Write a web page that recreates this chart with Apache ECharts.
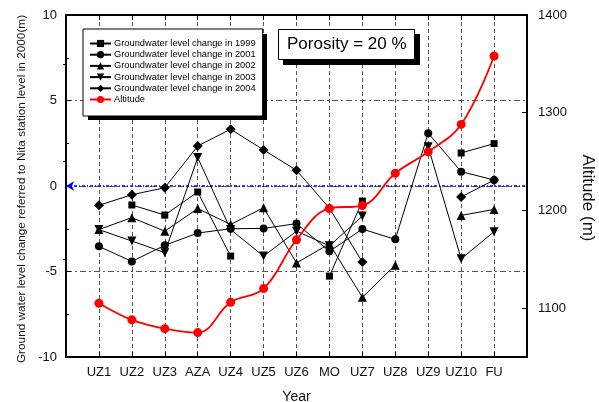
<!DOCTYPE html>
<html>
<head>
<meta charset="utf-8">
<script src="https://cdn.jsdelivr.net/npm/echarts@6/dist/echarts.min.js"></script>
<style>
  html, body { margin: 0; padding: 0; background: #fff; }
  #chart { width: 599px; height: 402px; }
</style>
</head>
<body>
<div id="chart"></div>
<script>
// Station names along the profile
const categories = ['UZ1', 'UZ2', 'UZ3', 'AZA', 'UZ4', 'UZ5', 'UZ6', 'MO', 'UZ7', 'UZ8', 'UZ9', 'UZ10', 'FU'];

// Groundwater level change (m), referred to Nita station level in 2000
const level1999 = [null, -1.11, -1.70, -0.35, -4.10, null, null, -5.27, -0.88, null, null, 1.93, 2.48];
const level2001 = [-3.53, -4.41, -3.47, -2.75, -2.50, -2.48, -2.20, -3.82, -2.52, -3.12, 3.09, 0.84, 0.35];
const level2002 = [-2.55, -1.85, -2.64, -1.32, -2.25, -1.27, -4.50, -3.38, -6.51, -4.63, null, -1.72, -1.37];
const level2003 = [-2.55, -3.22, -3.90, 1.66, -2.55, -4.10, -2.64, -3.50, -1.76, null, 2.29, -4.26, -2.67];
const level2004 = [-1.13, -0.51, -0.10, 2.34, 3.32, 2.11, 0.92, -1.30, -4.45, null, null, -0.64, 0.35];

// Station altitude (m)
const altitude = [1105, 1088, 1079, 1075, 1106, 1120, 1170, 1202, 1205, 1238, 1260, 1288, 1358];

// Right axis ticks
const altitudeLabels = [1100, 1200, 1300, 1400];
const altitudeMinor = [1150, 1250, 1350];

const FONT = '"Liberation Sans", Arial, sans-serif';

const toPoints = arr => arr.map((v, i) => [i + 1, v == null ? '-' : v]);

function levelSeries(name, values, symbol, size, rotate) {
  return {
    name: name,
    type: 'line',
    xAxisIndex: 0,
    yAxisIndex: 0,
    data: toPoints(values),
    symbol: symbol,
    symbolSize: size,
    symbolRotate: rotate || 0,
    connectNulls: false,
    lineStyle: { color: '#000', width: 1 },
    itemStyle: { color: '#000' },
    z: 3
  };
}

const chart = echarts.init(document.getElementById('chart'), null, { renderer: 'canvas' });

chart.setOption({
  animation: false,
  backgroundColor: '#fff',
  textStyle: { fontFamily: FONT },
  grid: { left: 66, right: 72, top: 15, bottom: 45, containLabel: false, outerBoundsMode: 'none' },
  // boxed note
  title: {
    text: 'Porosity = 20 %',
    left: 278,
    top: 29,
    z: 30,
    padding: [6, 8, 6, 9],
    backgroundColor: '#fff',
    borderColor: '#000',
    borderWidth: 1,
    textStyle: { fontSize: 17, fontWeight: 'normal', color: '#000', fontFamily: FONT, lineHeight: 19 }
  },
  // hard drop shadows behind the legend and the note
  graphic: [
    { type: 'rect', z: 15, shape: { x: 88, y: 34, width: 179, height: 86 }, style: { fill: '#000' } },
    { type: 'rect', z: 15, shape: { x: 283, y: 34, width: 137, height: 31 }, style: { fill: '#000' } }
  ],
  xAxis: [
    {
      type: 'value',
      position: 'bottom',
      min: 0, max: 14, interval: 1,
      name: 'Year',
      nameLocation: 'middle',
      nameGap: 33,
      nameTextStyle: { fontSize: 14, color: '#111', fontFamily: FONT },
      axisLine: { show: true, onZero: false, lineStyle: { color: '#000', width: 2 } },
      axisTick: { show: true, inside: true, length: 5, lineStyle: { color: '#000' } },
      axisLabel: {
        margin: 9,
        fontSize: 13,
        color: '#111',
        fontFamily: FONT,
        formatter: v => categories[v - 1] || ''
      },
      splitLine: { show: true, lineStyle: { color: '#555', width: 1, type: [4, 3] } }
    },
    {
      type: 'value',
      position: 'top',
      min: 0, max: 14, interval: 1,
      axisLine: { show: true, onZero: false, lineStyle: { color: '#000', width: 2 } },
      axisTick: { show: true, inside: true, length: 5, lineStyle: { color: '#000' } },
      axisLabel: { show: false },
      splitLine: { show: false }
    }
  ],
  yAxis: [
    {
      type: 'value',
      position: 'left',
      min: -10, max: 10, interval: 5,
      name: 'Ground water level change referred to Nita station level in 2000(m)',
      nameLocation: 'middle',
      nameRotate: 90,
      nameGap: 38,
      nameTextStyle: { fontSize: 11.8, color: '#111', fontFamily: FONT, padding: [0, 6, 0, 0] },
      axisLine: { show: true, onZero: false, lineStyle: { color: '#000', width: 2 } },
      axisTick: { show: true, inside: true, length: 5, lineStyle: { color: '#000' } },
      minorTick: { show: true, splitNumber: 2, length: 3, lineStyle: { color: '#000' } },
      axisLabel: { fontSize: 13, color: '#111', margin: 9, fontFamily: FONT },
      splitLine: { show: true, lineStyle: { color: '#555', width: 1, type: [6, 3, 2, 3] } }
    },
    {
      type: 'value',
      position: 'right',
      min: 1050, max: 1400,
      name: 'Altitude (m)',
      nameLocation: 'middle',
      nameRotate: -90,
      nameGap: 52,
      nameTextStyle: { fontSize: 17, color: '#111', fontFamily: FONT, padding: [0, 0, 0, 24] },
      axisLine: { show: true, onZero: false, lineStyle: { color: '#000', width: 2 } },
      axisTick: { show: true, inside: true, length: 5, customValues: altitudeLabels, lineStyle: { color: '#000' } },
      axisLabel: {
        fontSize: 13, color: '#111', margin: 11, fontFamily: FONT,
        customValues: altitudeLabels,
        formatter: v => String(v)
      },
      splitLine: { show: false }
    },
    {
      type: 'value',
      position: 'right',
      min: 1050, max: 1400,
      axisLine: { show: false },
      axisTick: { show: true, inside: true, length: 3, customValues: altitudeMinor, lineStyle: { color: '#000' } },
      axisLabel: { show: false, customValues: altitudeMinor },
      splitLine: { show: false }
    }
  ],
  legend: {
    orient: 'vertical',
    left: 83,
    top: 29,
    padding: [10, 7, 12, 6],
    itemWidth: 21,
    itemHeight: 9,
    itemGap: 2.2,
    backgroundColor: '#fff',
    borderColor: '#000',
    borderWidth: 1,
    z: 20,
    textStyle: { fontSize: 9.3, color: '#000', fontFamily: FONT, padding: [0, 0, 0, -2] },
    data: [
      'Groundwater level change in 1999',
      'Groundwater level change in 2001',
      'Groundwater level change in 2002',
      'Groundwater level change in 2003',
      'Groundwater level change in 2004',
      'Altitude'
    ]
  },
  series: [
    Object.assign(levelSeries('Groundwater level change in 1999', level1999, 'rect', 7), {
      markLine: {
        silent: true,
        symbol: ['arrow', 'none'],
        symbolSize: [7, 8],
        label: { show: false },
        lineStyle: { color: '#0000ff', width: 1.5, type: [3, 2, 1, 2] },
        data: [[{ coord: [0, 0] }, { coord: [14, 0] }]],
        z: 2
      }
    }),
    levelSeries('Groundwater level change in 2001', level2001, 'circle', 8),
    levelSeries('Groundwater level change in 2002', level2002, 'triangle', 9),
    levelSeries('Groundwater level change in 2003', level2003, 'triangle', 9, 180),
    levelSeries('Groundwater level change in 2004', level2004, 'diamond', 10),
    {
      name: 'Altitude',
      type: 'line',
      xAxisIndex: 0,
      yAxisIndex: 1,
      data: toPoints(altitude),
      smooth: 0.4,
      symbol: 'circle',
      symbolSize: 9,
      lineStyle: { color: '#ff0000', width: 1.8 },
      itemStyle: { color: '#ff0000' },
      z: 5
    }
  ]
});
</script>
</body>
</html>
